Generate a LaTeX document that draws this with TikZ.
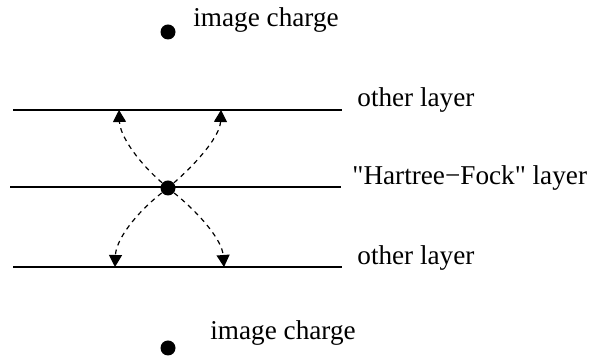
\documentclass[tikz,border=0pt]{standalone}
\usepackage{fontspec}
\newfontfamily\lblfont{Liberation Serif}
\usetikzlibrary{arrows.meta}
\begin{document}
\begin{tikzpicture}[x=0.5pt,y=-0.5pt,
  layerline/.style={line width=0.6pt},
  charge/.style={circle,fill=black,inner sep=0pt,minimum size=7.5pt},
  lbl/.style={anchor=base west,inner sep=0pt,font=\lblfont\fontsize{13.6}{16}\selectfont},
  hop/.style={dash pattern=on 2.4pt off 2.2pt,line width=0.6pt,-{Triangle[width=6.5pt,length=6pt]}}]
\useasboundingbox (0,0) rectangle (594,356);
% layers
\coordinate (t0) at (13,110); \coordinate (t1) at (342,110);
\coordinate (m0) at (10,187); \coordinate (m1) at (341,187);
\coordinate (b0) at (13,267); \coordinate (b1) at (342,267);
\draw[layerline] (t0) -- (t1);
\draw[layerline] (m0) -- (m1);
\draw[layerline] (b0) -- (b1);
% labels
\node[lbl] (lt) at (357,107) {other layer};
\node[lbl] (lm) at (352,185) {"Hartree−Fock" layer};
\node[lbl] (lb) at (357,265) {other layer};
% charges
\node[charge] (c) at (168,188) {};
\node[charge] (ic1) at (168,32) {};
\node[charge] (ic2) at (168,348) {};
\node[lbl] (it1) at (193,27) {image charge};
\node[lbl] (it2) at (210,340) {image charge};
% hop arrows
\coordinate (e1) at (119,110);
\coordinate (e2) at (221,110);
\coordinate (e3) at (115,267);
\coordinate (e4) at (224,267);
\draw[hop] (c) .. controls (136,160) and (120,135) .. (e1);
\draw[hop] (c) .. controls (200,160) and (220,135) .. (e2);
\draw[hop] (c) .. controls (135,214) and (116,240) .. (e3);
\draw[hop] (c) .. controls (200,214) and (222,240) .. (e4);
\end{tikzpicture}
\end{document}
